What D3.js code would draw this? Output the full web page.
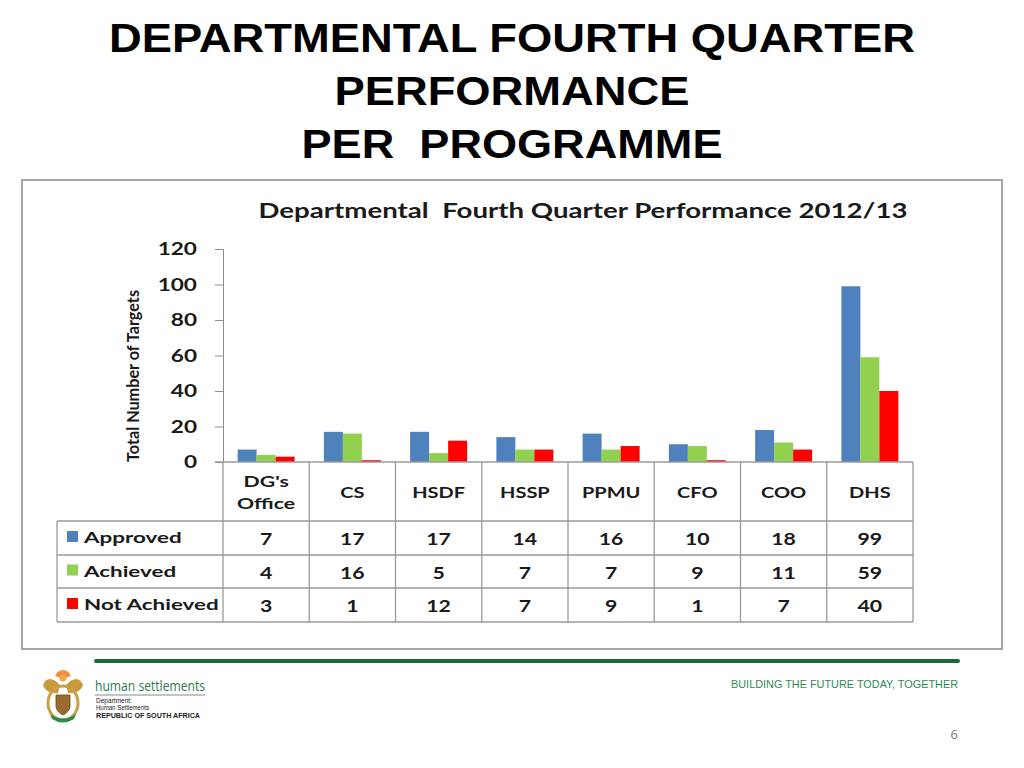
<!DOCTYPE html>
<html>
<head>
<meta charset="utf-8">
<script src="https://cdn.jsdelivr.net/npm/d3@7"></script>
<style>
  body { margin: 0; background: #fff; }
  svg { display: block; }
</style>
</head>
<body>
<svg id="slide" width="1024" height="768"></svg>
<script>
// data
const categories = ["DG's Office", "CS", "HSDF", "HSSP", "PPMU", "CFO", "COO", "DHS"];
const seriesNames = ["Approved", "Achieved", "Not Achieved"];
const approved = [7, 17, 17, 14, 16, 10, 18, 99];
const achieved = [4, 16, 5, 7, 7, 9, 11, 59];
const notAchieved = [3, 1, 12, 7, 9, 1, 7, 40];
const yTicks = [0, 20, 40, 60, 80, 100, 120];
const seriesColors = ["#4F81BD", "#92D050", "#FF0000"];

const values = [approved, achieved, notAchieved];
const tableFont = "Lato, 'Open Sans', sans-serif";
const SX = 1.33; // the slide picture is stretched sideways

const svg = d3.select("#slide");

// stretched text helper, the source image is wider than the fonts
function stretched(g, x, y, txt, opts = {}) {
    return g.append("text")
        .attr("transform", `translate(${x},${y}) scale(${opts.sx || SX},1)`)
        .attr("text-anchor", opts.anchor || "middle")
        .attr("font-family", opts.family || tableFont)
        .attr("font-size", opts.size || 16)
        .attr("font-weight", opts.weight || 700)
        .attr("fill", opts.fill || "#1a1a1a")
        .text(txt);
}

// slide title
const titleLines = [
    {t: "DEPARTMENTAL FOURTH QUARTER", y: 52, w: 806},
    {t: "PERFORMANCE", y: 105, w: 355},
    {t: "PER  PROGRAMME", y: 158, w: 421}
];
svg.append("g").selectAll("text")
    .data(titleLines)
    .enter()
    .append("text")
    .attr("x", 512)
    .attr("y", d => d.y)
    .attr("text-anchor", "middle")
    .attr("font-family", "'Liberation Sans', Arial, sans-serif")
    .attr("font-weight", 700)
    .attr("font-size", 41)
    .attr("textLength", d => d.w)
    .attr("lengthAdjust", "spacingAndGlyphs")
    .attr("xml:space", "preserve")
    .style("white-space", "pre")
    .text(d => d.t);

// chart frame
svg.append("rect")
    .attr("x", 22).attr("y", 180)
    .attr("width", 980).attr("height", 469)
    .attr("fill", "#fff")
    .attr("stroke", "#a6a6a6")
    .attr("stroke-width", 2);

const chart = svg.append("g");

chart.append("text")
    .attr("x", 583).attr("y", 218)
    .attr("text-anchor", "middle")
    .attr("font-family", tableFont)
    .attr("font-weight", 700)
    .attr("font-size", 20)
    .attr("fill", "#1a1a1a")
    .attr("textLength", 649)
    .attr("lengthAdjust", "spacingAndGlyphs")
    .style("white-space", "pre")
    .text("Departmental  Fourth Quarter Performance 2012/13");

// scales
const plot = {left: 223, right: 913, top: 249, bottom: 462};
const x0 = d3.scaleBand()
    .domain(categories)
    .range([plot.left, plot.right]);
const x1 = d3.scaleBand()
    .domain(seriesNames)
    .range([0, x0.bandwidth()])
    .paddingOuter(0.77);
const y = d3.scaleLinear()
    .domain([0, 120])
    .range([plot.bottom, plot.top]);

// y axis
const yAxis = chart.append("g")
    .attr("transform", `translate(${plot.left},0)`)
    .call(d3.axisLeft(y).tickValues(yTicks).tickSize(8).tickFormat(""));
yAxis.select(".domain").attr("stroke", "#8c8c8c");
yAxis.selectAll(".tick line").attr("stroke", "#8c8c8c");

chart.append("g").selectAll("text")
    .data(yTicks)
    .enter()
    .each(function (d) {
        stretched(d3.select(this), 197, y(d) + 6, d, {anchor: "end", size: 17});
    });

chart.append("text")
    .attr("transform", `translate(139,${(290 + 462) / 2}) rotate(-90)`)
    .attr("text-anchor", "middle")
    .attr("font-family", tableFont)
    .attr("font-weight", 700)
    .attr("font-size", 17)
    .attr("fill", "#1a1a1a")
    .attr("textLength", 172)
    .attr("lengthAdjust", "spacingAndGlyphs")
    .text("Total Number of Targets");

// bars
const groups = chart.append("g").selectAll("g")
    .data(categories)
    .enter()
    .append("g")
    .attr("transform", d => `translate(${x0(d)},0)`);

groups.selectAll("rect")
    .data((d, i) => seriesNames.map((s, j) => ({s, v: values[j][i], c: seriesColors[j]})))
    .enter()
    .append("rect")
    .attr("x", d => x1(d.s))
    .attr("width", x1.bandwidth())
    .attr("y", d => y(d.v))
    .attr("height", d => y(0) - y(d.v))
    .attr("fill", d => d.c);

// data table under the axis
const rowTop = [462, 521, 555, 588, 622];
const tableLeft = 57;
const grid = chart.append("g")
    .attr("stroke", "#9a9a9a")
    .attr("stroke-width", 1.3)
    .attr("fill", "none");

grid.append("line")
    .attr("x1", plot.left - 8).attr("x2", plot.right)
    .attr("y1", plot.bottom).attr("y2", plot.bottom);
grid.selectAll(".hl")
    .data(rowTop.slice(1))
    .enter()
    .append("line")
    .attr("x1", tableLeft).attr("x2", plot.right)
    .attr("y1", d => d).attr("y2", d => d);
grid.selectAll(".vl")
    .data(categories.map(c => x0(c)).concat([plot.right]))
    .enter()
    .append("line")
    .attr("x1", d => d).attr("x2", d => d)
    .attr("y1", plot.bottom).attr("y2", rowTop[4]);
grid.append("line")
    .attr("x1", tableLeft).attr("x2", tableLeft)
    .attr("y1", rowTop[1]).attr("y2", rowTop[4]);

// category labels
categories.forEach(c => {
    const cx = x0(c) + x0.bandwidth() / 2;
    const parts = c.split(" ");
    if (parts.length > 1) {
        stretched(chart, cx, 487, parts[0], {size: 16});
        stretched(chart, cx, 509, parts[1], {size: 16});
    } else {
        stretched(chart, cx, 498, c, {size: 16, sx: 1.25});
    }
});

// series rows
seriesNames.forEach((s, j) => {
    const mid = (rowTop[j + 1] + rowTop[j + 2]) / 2;
    chart.append("rect")
        .attr("x", 67).attr("y", mid - 7)
        .attr("width", 11).attr("height", 11)
        .attr("fill", seriesColors[j]);
    stretched(chart, 84, mid + 5, s, {anchor: "start", size: 16, sx: 1.4});
    categories.forEach((c, i) => {
        stretched(chart, x0(c) + x0.bandwidth() / 2, mid + 7, values[j][i], {size: 17, sx: 1.25});
    });
});

// footer
svg.append("line")
    .attr("x1", 96).attr("x2", 958)
    .attr("y1", 661).attr("y2", 661)
    .attr("stroke", "#1d6b3a")
    .attr("stroke-width", 4)
    .attr("stroke-linecap", "round");

svg.append("text")
    .attr("x", 958).attr("y", 688)
    .attr("text-anchor", "end")
    .attr("font-family", "'Liberation Sans', Arial, sans-serif")
    .attr("font-size", 11)
    .attr("fill", "#2f8a55")
    .attr("textLength", 227)
    .attr("lengthAdjust", "spacingAndGlyphs")
    .text("BUILDING THE FUTURE TODAY, TOGETHER");

svg.append("text")
    .attr("x", 958).attr("y", 739)
    .attr("text-anchor", "end")
    .attr("font-family", "'Open Sans', sans-serif")
    .attr("font-size", 13)
    .attr("fill", "#777")
    .text("6");

// department mark
const brand = svg.append("g");
brand.append("text")
    .attr("x", 95).attr("y", 691)
    .attr("font-family", "'Open Sans', sans-serif")
    .attr("font-size", 14)
    .attr("fill", "#2d7a4c")
    .attr("textLength", 110)
    .attr("lengthAdjust", "spacingAndGlyphs")
    .text("human settlements");
brand.append("line")
    .attr("x1", 95).attr("x2", 205)
    .attr("y1", 695).attr("y2", 695)
    .attr("stroke", "#8a8a8a").attr("stroke-width", 1);
const small = [
    {t: "Department:", y: 703, w: 36, b: 400},
    {t: "Human Settlements", y: 710, w: 53, b: 400},
    {t: "REPUBLIC OF SOUTH AFRICA", y: 718, w: 104, b: 700}
];
brand.selectAll(".small")
    .data(small)
    .enter()
    .append("text")
    .attr("x", 96).attr("y", d => d.y)
    .attr("font-family", "'Liberation Sans', Arial, sans-serif")
    .attr("font-size", 6.5)
    .attr("font-weight", d => d.b)
    .attr("fill", "#222")
    .attr("textLength", d => d.w)
    .attr("lengthAdjust", "spacingAndGlyphs")
    .text(d => d.t);

// coat of arms, rough
const arms = svg.append("g").attr("transform", "translate(63,697)");
const rays = d3.range(-70, 71, 14);
arms.selectAll(".ray")
    .data(rays)
    .enter()
    .append("line")
    .attr("x1", 0).attr("y1", -19)
    .attr("x2", d => 8 * Math.sin(d * Math.PI / 180))
    .attr("y2", d => -19 - 8 * Math.cos(d * Math.PI / 180))
    .attr("stroke", "#f0883a").attr("stroke-width", 1.6);
arms.append("circle").attr("cx", 0).attr("cy", -19).attr("r", 3.5).attr("fill", "#f3a64a");
arms.append("path")
    .attr("d", "M-3,-12 C-10,-20 -17,-20 -20,-12 C-18,-6 -12,-3 -5,-4 Z")
    .attr("fill", "#c99a3c");
arms.append("path")
    .attr("d", "M3,-12 C10,-20 17,-20 20,-12 C18,-6 12,-3 5,-4 Z")
    .attr("fill", "#c99a3c");
arms.append("ellipse")
    .attr("cx", 0).attr("cy", 6).attr("rx", 15).attr("ry", 17)
    .attr("fill", "none").attr("stroke", "#c9a04a").attr("stroke-width", 3);
arms.append("path")
    .attr("d", "M-7,-2 L7,-2 L7,9 C7,15 0,18 0,18 C0,18 -7,15 -7,9 Z")
    .attr("fill", "#9a6a2c").attr("stroke", "#6d4a1d").attr("stroke-width", 0.8);
arms.append("path")
    .attr("d", "M-13,17 Q0,26 13,17 L11,22 Q0,29 -11,22 Z")
    .attr("fill", "#2f8a45");
</script>
</body>
</html>
